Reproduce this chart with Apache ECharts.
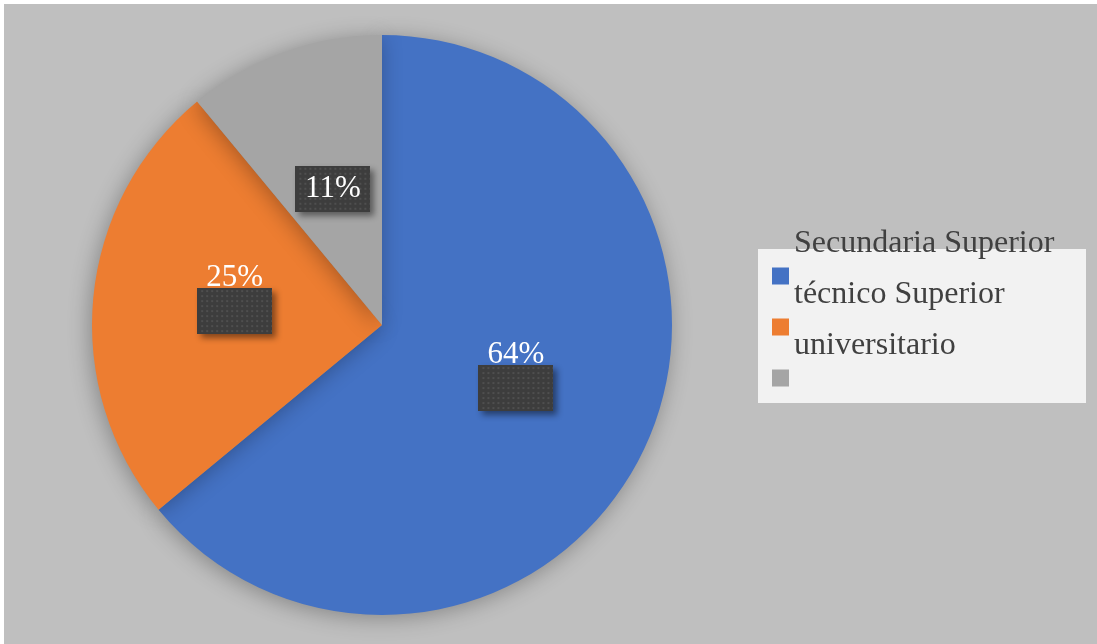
<!DOCTYPE html>
<html>
<head>
<meta charset="utf-8">
<script src="https://cdn.jsdelivr.net/npm/echarts@6/dist/echarts.min.js"></script>
<style>
  html, body { margin: 0; padding: 0; background: #ffffff; }
  #chart { width: 1097px; height: 644px; }
</style>
</head>
<body>
<div id="chart"></div>
<script>
// Education level shares
const categories = ['Secundaria Superior', 'técnico Superior', 'universitario'];
const shares = [64, 25, 11];
const colors = ['#4472c4', '#ed7d31', '#a5a5a5'];

// Dotted dark fill used behind the percentage labels
function dotPattern(w, h) {
  const c = document.createElement('canvas');
  c.width = w; c.height = h;
  const g = c.getContext('2d');
  g.fillStyle = '#3d3d3d';
  g.fillRect(0, 0, w, h);
  g.fillStyle = '#4f4f4f';
  for (let y = 2; y < h; y += 5) {
    for (let x = (y / 5) % 2 ? 4 : 1.5; x < w; x += 5) {
      g.fillRect(x, y, 2, 2);
    }
  }
  return c;
}
const boxW = 75, boxH = 46;
const boxImg = dotPattern(boxW, boxH);

// Slices whose percentage sits above its box rather than inside it
const raisedText = [true, true, false];

const font = '"Liberation Serif", "Times New Roman", serif';
const chart = echarts.init(document.getElementById('chart'), null, { renderer: 'canvas' });

const boxStyle = {
  width: boxW,
  height: boxH,
  align: 'center',
  backgroundColor: { image: boxImg },
  shadowColor: 'rgba(0,0,0,0.45)',
  shadowBlur: 6,
  shadowOffsetX: 4,
  shadowOffsetY: 4,
  fontFamily: font,
  fontSize: 31,
  color: '#ffffff'
};

chart.setOption({
  backgroundColor: '#ffffff',
  animation: false,
  color: colors,
  graphic: [
    { type: 'rect', z: -10, shape: { x: 4, y: 4, width: 1093, height: 640 }, style: { fill: '#bfbfbf' } },
    { type: 'rect', z: -5, shape: { x: 758, y: 249, width: 328, height: 154 }, style: { fill: '#f2f2f2' } }
  ],
  legend: {
    orient: 'vertical',
    left: 772,
    top: 228,
    padding: 0,
    itemWidth: 17,
    itemHeight: 17,
    itemGap: -45,
    icon: 'rect',
    data: categories,
    formatter: name => '{n|' + name + '}\n{s|}',
    textStyle: {
      rich: {
        n: { fontFamily: font, fontSize: 32, color: '#404040', lineHeight: 32 },
        s: { height: 64, lineHeight: 64 }
      }
    }
  },
  series: [
    {
      type: 'pie',
      center: [382, 325],
      radius: 290,
      startAngle: 90,
      clockwise: true,
      silent: true,
      avoidLabelOverlap: false,
      itemStyle: {
        shadowBlur: 22,
        shadowColor: 'rgba(0,0,0,0.3)',
        shadowOffsetX: -2,
        shadowOffsetY: 3
      },
      label: {
        position: 'inside',
        rich: {
          t: { fontFamily: font, fontSize: 31, color: '#ffffff', lineHeight: 20, align: 'center' },
          b: boxStyle
        }
      },
      labelLine: { show: false },
      data: categories.map((name, i) => ({
        name: name,
        value: shares[i],
        label: raisedText[i]
          ? { formatter: '{t|{c}%}\n{b|}', offset: [0, -10] }
          : { formatter: '{b|{c}%}', offset: [1, 3] }
      }))
    }
  ]
});
</script>
</body>
</html>
